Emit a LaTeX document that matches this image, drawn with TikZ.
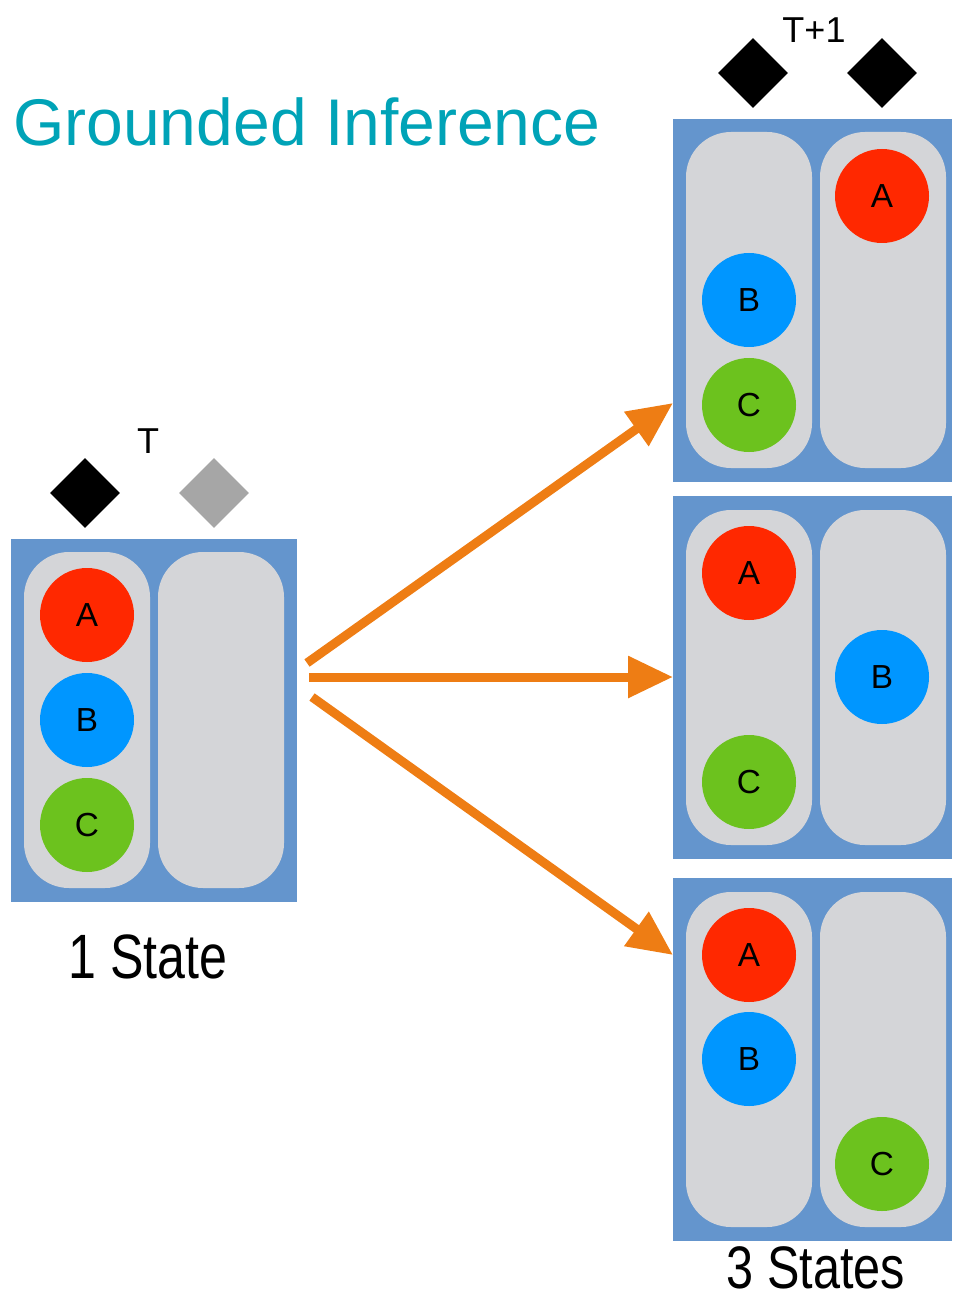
\documentclass[tikz,border=0pt]{standalone}
\usepackage{fontspec}
\setmainfont{Liberation Sans}
\usetikzlibrary{arrows.meta,shapes.geometric}
\newcommand\pxu{0.75pt}
\definecolor{stateblue}{RGB}{100,149,205}
\definecolor{colgray}{RGB}{212,213,216}
\definecolor{ballred}{RGB}{255,40,0}
\definecolor{ballblue}{RGB}{0,150,255}
\definecolor{ballgreen}{RGB}{108,194,30}
\definecolor{diagray}{RGB}{166,166,166}
\definecolor{arroworange}{RGB}{238,125,20}
\definecolor{titleteal}{RGB}{0,163,183}
\tikzset{
  statebox/.style={fill=stateblue, draw=none, minimum width=#1*\pxu, minimum height=363*\pxu, inner sep=0, outer sep=0},
  statebox/.default=286,
  ball/.style={circle, fill=#1, draw=none, minimum size=94*\pxu, inner sep=0, font=\fontsize{25}{27}\selectfont},
  flag/.style={diamond, fill=#1, draw=none, minimum width=70*\pxu, minimum height=70*\pxu, inner sep=0},
  arr/.style={draw=arroworange, line width=6.75pt, -{Triangle[length=33.75pt, width=30pt]}},
  col/.style={fill=colgray, rounded corners=45*\pxu},
  lbl/.style={anchor=base, inner sep=0, font=\fontsize{27}{30}\selectfont},
}
\begin{document}
\begin{tikzpicture}[x=0.75pt, y=-0.75pt]
\useasboundingbox (0,0) rectangle (952,1301);
% title
\node[anchor=base west, inner sep=0, text=titleteal, font=\fontsize{49.5}{58}\selectfont] (title) at (13,146) {Grounded Inference};
% left state
\node[lbl] (tlab) at (148,453) {T};
\node[flag=black] (f0a) at (85,493) {};
\node[flag=diagray] (f0b) at (214,493) {};
\node[statebox] (s0) at (154,720.5) {};
\fill[col] (24,552) rectangle (150,888);
\fill[col] (158,552) rectangle (284,888);
\node[ball=ballred] (a0) at (87,615) {A};
\node[ball=ballblue] (b0) at (87,720) {B};
\node[ball=ballgreen] (c0) at (87,825) {C};
\node[anchor=base, inner sep=0] (lab0) at (148,978) {\scalebox{0.8}[1]{\fontsize{47}{50}\selectfont 1 State}};
% right: top state
\node[lbl] (t1lab) at (814,43) {T+1};
\node[flag=black] (f1a) at (753,73) {};
\node[flag=black] (f1b) at (882,73) {};
\node[statebox=279] (s1) at (812.5,300.5) {};
\fill[col] (686,132) rectangle (812,468);
\fill[col] (820,132) rectangle (946,468);
\node[ball=ballred] (a1) at (882,196) {A};
\node[ball=ballblue] (b1) at (749,300) {B};
\node[ball=ballgreen] (c1) at (749,405) {C};
% right: middle state
\node[statebox=279] (s2) at (812.5,677) {};
\fill[col] (686,510) rectangle (812,845);
\fill[col] (820,510) rectangle (946,845);
\node[ball=ballred] (a2) at (749,573) {A};
\node[ball=ballblue] (b2) at (882,677) {B};
\node[ball=ballgreen] (c2) at (749,782) {C};
% right: bottom state
\node[statebox=279] (s3) at (812.5,1059) {};
\fill[col] (686,892) rectangle (812,1227);
\fill[col] (820,892) rectangle (946,1227);
\node[ball=ballred] (a3) at (749,955) {A};
\node[ball=ballblue] (b3) at (749,1059) {B};
\node[ball=ballgreen] (c3) at (882,1164) {C};
\node[anchor=base, inner sep=0] (lab1) at (816,1288) {\scalebox{0.81}[1]{\fontsize{45}{50}\selectfont 3 States}};
% arrows
\coordinate (o1) at (307,663);
\coordinate (o2) at (309,677);
\coordinate (o3) at (312,697);
\coordinate (e1) at (s1.west |- 0,403);
\coordinate (e2) at (s2.west);
\coordinate (e3) at (s3.west |- 0,955);
\draw[arr] (o1) -- (e1);
\draw[arr] (o2) -- (e2);
\draw[arr] (o3) -- (e3);
\end{tikzpicture}
\end{document}
